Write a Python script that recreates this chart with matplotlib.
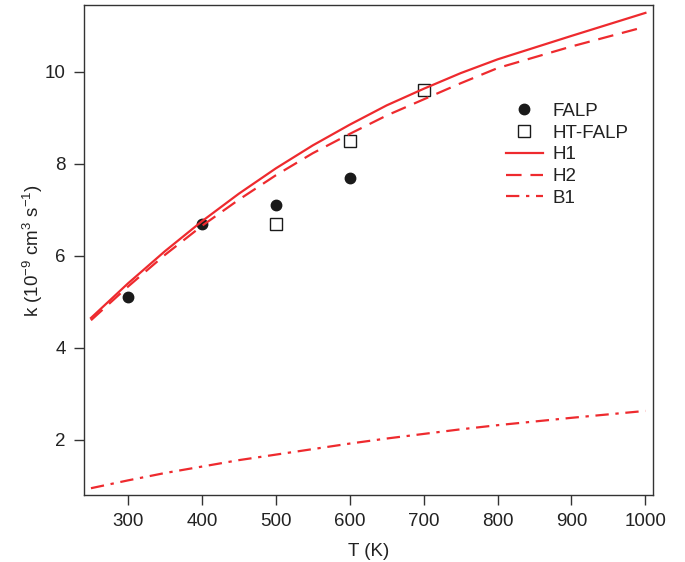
import matplotlib
matplotlib.use("Agg")
import matplotlib.pyplot as plt

plt.rcParams['font.family'] = ['Liberation Sans', 'DejaVu Sans']
plt.rcParams['mathtext.default'] = 'regular'

falp_T = [300, 400, 500, 600]
falp_k = [5.1, 6.7, 7.1, 7.7]
htfalp_T = [500, 600, 700]
htfalp_k = [6.7, 8.5, 9.6]

curve_T = [250, 300, 350, 400, 450, 500, 550, 600, 650, 700, 750, 800, 900, 1000]
h1_k = [4.65, 5.40, 6.10, 6.75, 7.35, 7.90, 8.40, 8.85, 9.27, 9.63, 9.97, 10.27, 10.78, 11.28]
h2_k = [4.60, 5.33, 6.02, 6.65, 7.22, 7.75, 8.23, 8.65, 9.05, 9.40, 9.75, 10.08, 10.55, 10.98]
b1_k = [0.95, 1.12, 1.28, 1.42, 1.56, 1.68, 1.80, 1.92, 2.03, 2.13, 2.23, 2.32, 2.48, 2.63]

red = '#ee2a2e'
dark = '#333333'

fig = plt.figure(figsize=(6.85, 5.62), dpi=100)
ax = fig.add_axes([0.122, 0.119, 0.831, 0.872])

ax.plot(falp_T, falp_k, 'o', color='#1a1a1a', markersize=7.5, linestyle='none', label='FALP')
ax.plot(htfalp_T, htfalp_k, 's', markerfacecolor='white', markeredgecolor='#1a1a1a',
        markeredgewidth=1.0, markersize=8, linestyle='none', label='HT-FALP')
ax.plot(curve_T, h1_k, '-', color=red, lw=1.6, label='H1')
ax.plot(curve_T, h2_k, color=red, lw=1.6, dashes=(7, 4), label='H2')
ax.plot(curve_T, b1_k, color=red, lw=1.6, dashes=(6, 3, 1.5, 3), label='B1')

ax.set_xlim(240, 1010)
ax.set_ylim(0.8, 11.45)
ax.set_xticks([300, 400, 500, 600, 700, 800, 900, 1000])
ax.set_yticks([2, 4, 6, 8, 10])

for s in ax.spines.values():
    s.set_color(dark)
    s.set_linewidth(1.0)
ax.tick_params(axis='both', direction='out', length=7, width=1.0, color=dark,
               labelsize=13.5, labelcolor='#222222', pad=6)

ax.set_xlabel('T (K)', fontsize=13.5, color='#222222', labelpad=9)
ax.set_ylabel('k (10$^{-9}$ cm$^{3}$ s$^{-1}$)', fontsize=13.5, color='#222222', labelpad=0)

leg = ax.legend(loc='upper left', bbox_to_anchor=(0.725, 0.82), frameon=False,
                fontsize=13.5, handlelength=2.0, handletextpad=0.5, labelspacing=0.25,
                borderpad=0)
for t in leg.get_texts():
    t.set_color('#222222')

fig.savefig('out.png', dpi=100)
